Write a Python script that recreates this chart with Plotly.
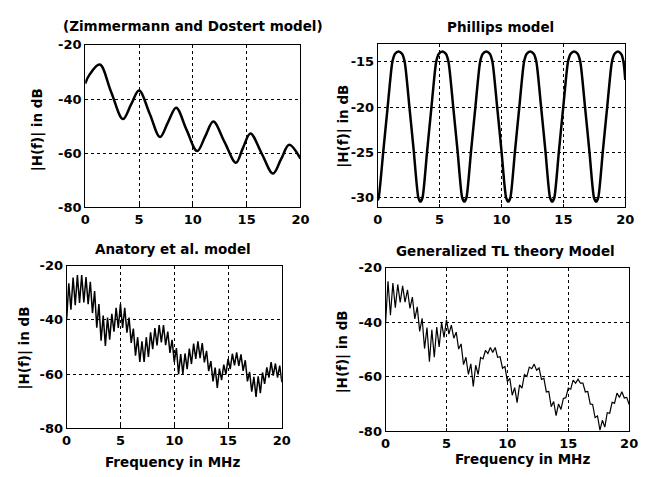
import plotly.graph_objects as go

# ---------------- data ----------------
# Zimmermann and Dostert model (smooth)
zd_freq = [0, 0.4, 1.35, 2.4, 3.5, 4.25, 5.0, 6.0, 6.95, 7.7, 8.45, 9.4, 10.4, 11.15,
           11.9, 12.95, 14.0, 14.65, 15.35, 16.4, 17.45, 18.2, 18.95, 20.0]
zd_db = [-34.3, -31.0, -27.3, -37.3, -47.4, -42.1, -36.9, -45.5, -54.0, -48.5, -43.2,
         -51.2, -59.2, -53.8, -48.3, -55.9, -63.5, -58.1, -52.7, -60.1, -67.5, -62.2,
         -56.9, -62.0]

# Phillips model
ph_freq = [0.0, 0.08, 0.44, 0.80, 1.18, 1.40, 1.68, 1.96, 2.18, 2.56, 2.92, 3.28, 3.45,
           3.62, 3.98, 4.34, 4.72, 4.94, 5.22, 5.50, 5.72, 6.10, 6.46, 6.82, 7.00,
           7.17, 7.53, 7.89, 8.27, 8.49, 8.77, 9.05, 9.27, 9.65, 10.01, 10.37, 10.55,
           10.72, 11.08, 11.44, 11.82, 12.04, 12.32, 12.60, 12.82, 13.20, 13.56, 13.92, 14.10,
           14.27, 14.63, 14.99, 15.37, 15.59, 15.87, 16.15, 16.37, 16.75, 17.11, 17.47, 17.65,
           17.82, 18.18, 18.54, 18.92, 19.14, 19.42, 19.70, 19.88, 20.0]
ph_db = [-30.3, -30.0, -25.0, -20.0, -15.0, -14.1, -13.85, -14.1, -15.0, -20.0, -25.0, -30.0, -30.45,
         -30.0, -25.0, -20.0, -15.0, -14.1, -13.85, -14.1, -15.0, -20.0, -25.0, -30.0, -30.45,
         -30.0, -25.0, -20.0, -15.0, -14.1, -13.85, -14.1, -15.0, -20.0, -25.0, -30.0, -30.45,
         -30.0, -25.0, -20.0, -15.0, -14.1, -13.85, -14.1, -15.0, -20.0, -25.0, -30.0, -30.45,
         -30.0, -25.0, -20.0, -15.0, -14.1, -13.85, -14.1, -15.0, -20.0, -25.0, -30.0, -30.45,
         -30.0, -25.0, -20.0, -15.0, -14.1, -13.85, -14.2, -15.2, -17.0]

# Anatory et al. model (0.2 MHz grid)
an_db = [-40.0, -26.5, -36.3, -24.4, -34.6, -23.5, -33.8, -23.5, -33.6, -24.2,
         -34.2, -26.0, -37.5, -29.4, -42.9, -34.2, -47.7, -38.4, -49.6, -39.2,
         -47.3, -37.8, -44.4, -35.6, -43.0, -34.2, -43.0, -35.6, -44.7, -39.2,
         -48.5, -43.2, -53.2, -46.4, -55.5, -47.9, -55.5, -46.4, -53.7, -44.6,
         -50.8, -43.0, -49.4, -41.9, -48.3, -41.9, -49.3, -44.3, -52.2, -47.4,
         -55.6, -50.4, -60.0, -52.6, -59.9, -52.4, -58.2, -50.6, -56.3, -48.8,
         -54.4, -47.9, -54.1, -48.6, -55.7, -51.4, -58.9, -55.2, -62.7, -57.6,
         -65.1, -58.0, -62.2, -56.5, -60.1, -54.4, -58.2, -52.5, -56.8, -52.0,
         -57.0, -52.7, -58.8, -54.9, -62.7, -59.2, -66.5, -61.0, -68.4, -60.8,
         -67.0, -59.4, -63.6, -57.5, -61.3, -55.6, -60.6, -56.1, -61.3, -56.9,
         -63.0]

# Generalized TL theory model (0.2 MHz grid)
tl_db = [-40.4, -25.0, -37.5, -25.7, -34.7, -26.2, -32.8, -26.7, -32.7, -28.2,
         -35.0, -30.8, -38.8, -34.4, -43.4, -38.6, -49.7, -42.0, -54.5, -42.8,
         -52.9, -41.8, -49.1, -40.2, -45.6, -39.2, -44.4, -41.1, -45.9, -43.7,
         -49.9, -48.0, -55.6, -52.9, -59.2, -55.3, -63.6, -55.8, -59.2, -53.0,
         -53.5, -50.4, -51.5, -49.3, -51.1, -49.3, -52.9, -52.7, -56.9, -56.3,
         -61.8, -60.6, -66.8, -64.0, -69.5, -63.0, -64.2, -59.2, -59.9, -56.5,
         -57.1, -55.4, -57.6, -56.8, -61.0, -60.6, -65.6, -65.4, -71.0, -69.1,
         -74.3, -70.0, -72.0, -68.0, -67.7, -64.2, -64.6, -61.3, -62.4, -60.9,
         -62.4, -62.4, -65.6, -65.4, -70.0, -70.2, -75.0, -74.4, -79.6, -76.0,
         -78.5, -73.2, -73.4, -69.4, -69.7, -66.0, -67.6, -65.5, -67.8, -67.6,
         -70.2]
grid_freq = [round(0.2 * k, 1) for k in range(101)]

titles = ["(Zimmermann and Dostert model)", "Phillips model",
          "Anatory et al. model", "Generalized TL theory Model"]
x_ticks = [0, 5, 10, 15, 20]
y_ticks_db = [-80, -60, -40, -20]
y_ticks_ph = [-30, -25, -20, -15]
y_label = "|H(f)| in dB"
x_label = "Frequency in MHz"

# ---------------- figure ----------------
W, H = 646, 477
FONT = "DejaVu Sans"


def px(x):
    return x / W


def py(y):
    return 1 - y / H


fig = go.Figure()
fig.add_trace(go.Scatter(x=zd_freq, y=zd_db, mode="lines",
                         line=dict(color="black", width=2.5, shape="spline", smoothing=1.0),
                         xaxis="x", yaxis="y"))
fig.add_trace(go.Scatter(x=ph_freq, y=ph_db, mode="lines",
                         line=dict(color="black", width=2.5, shape="spline", smoothing=0.6),
                         xaxis="x2", yaxis="y2"))
fig.add_trace(go.Scatter(x=grid_freq, y=an_db, mode="lines",
                         line=dict(color="black", width=1.5), xaxis="x3", yaxis="y3"))
fig.add_trace(go.Scatter(x=grid_freq, y=tl_db, mode="lines",
                         line=dict(color="black", width=1.2), xaxis="x4", yaxis="y4"))

domains = [
    ((82, 302), (39, 207)),
    ((381, 634), (38, 207)),
    ((63, 283), (267, 435)),
    ((389, 638), (269, 438)),
]
yranges = [[-80, -20], [-31.1, -13.0], [-80, -20], [-80, -20]]
yticks = [y_ticks_db, y_ticks_ph, y_ticks_db, y_ticks_db]

tickfont = dict(family=FONT, size=13, color="black", weight="bold")
common = dict(showline=True, linecolor="black", linewidth=1, mirror=True,
              showgrid=True, gridcolor="black", gridwidth=1, griddash="3px,3px",
              ticks="inside", ticklen=3, tickcolor="black", zeroline=False,
              tickfont=tickfont)
lay = {}
for i, ((x0, x1), (y0, y1)) in enumerate(domains):
    sfx = "" if i == 0 else str(i + 1)
    lay["xaxis" + sfx] = dict(domain=[px(x0), px(x1)], range=[0, 20], tickvals=x_ticks,
                             ticktext=[str(v) for v in x_ticks],
                             anchor="y" + sfx, **common)
    lay["yaxis" + sfx] = dict(domain=[py(y1), py(y0)], range=yranges[i], tickvals=yticks[i],
                             ticktext=[str(v) for v in yticks[i]],
                             anchor="x" + sfx, **common)

annfont = dict(family=FONT, size=13.5, color="black", weight="bold")
anns = []
title_pos = [(192, 20), (506, 21), (172, 250), (512, 252)]
for t, (x, y) in zip(titles, title_pos):
    anns.append(dict(text=t, x=px(x), y=py(y), xref="paper", yref="paper",
                     xanchor="center", yanchor="middle", showarrow=False, font=annfont))
ylab_pos = [(33, 127), (346, 123), (20, 352), (345, 356)]
for (x, y) in ylab_pos:
    anns.append(dict(text=y_label, x=px(x), y=py(y), xref="paper", yref="paper",
                     xanchor="center", yanchor="middle", textangle=-90, showarrow=False,
                     font=annfont))
xlab_pos = [(171, 470), (529, 467)]
for (x, y) in xlab_pos:
    anns.append(dict(text=x_label, x=px(x), y=py(y), xref="paper", yref="paper",
                     xanchor="center", yanchor="middle", showarrow=False, font=annfont))

fig.update_layout(width=W, height=H, margin=dict(l=0, r=0, t=0, b=0),
                  paper_bgcolor="white", plot_bgcolor="white", showlegend=False,
                  annotations=anns, **lay)
fig.write_html("out.html", config={"displayModeBar": False},
               post_script="document.body.style.margin='0px';"
                           "document.body.style.padding='0px';"
                           "document.documentElement.style.overflow='hidden';")
